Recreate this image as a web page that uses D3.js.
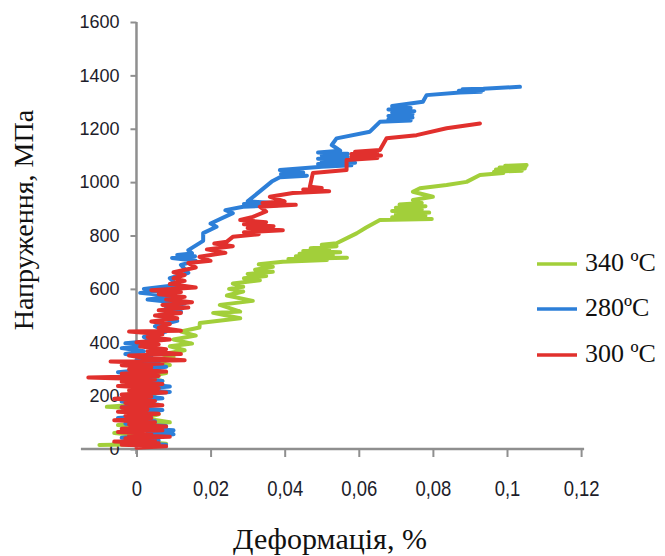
<!DOCTYPE html>
<html>
<head>
<meta charset="utf-8">
<script src="https://cdn.jsdelivr.net/npm/d3@7/dist/d3.min.js"></script>
<style>
  html, body { margin: 0; padding: 0; background: #fff; }
  svg { display: block; }
</style>
</head>
<body>
<svg id="chart" width="665" height="556"></svg>
<script>
// Stress–strain curves (strain, stress in MPa) at three test temperatures.
const seriesNames = ["340 ºC", "280ºC", "300 ºC"];
const seriesColors = ["#a2cf3a", "#2d7fd8", "#e1302d"];

const curve340 = [
  [-0.010, 15], [0.008, 20], [0.000, 30], [0.006, 45], [-0.006, 60], [0.004, 75],
  [-0.005, 90], [0.009, 100], [0.002, 115], [0.006, 130], [-0.004, 140], [0.003, 150],
  [-0.008, 158], [0.002, 168], [-0.003, 180], [0.005, 195], [-0.002, 210], [0.006, 225],
  [0.000, 240], [0.007, 255], [0.002, 270], [0.008, 285], [0.003, 300], [0.009, 315],
  [0.004, 330], [0.010, 345], [0.007, 355], [0.013, 370], [0.009, 385], [0.015, 395],
  [0.010, 410], [0.016, 425], [0.012, 440], [0.017, 455], [0.0171, 472], [0.028, 490],
  [0.0207, 510], [0.028, 515], [0.0225, 540], [0.0314, 555], [0.0244, 575], [0.0288, 590],
  [0.025, 600], [0.0288, 608], [0.026, 620], [0.0333, 632], [0.029, 640], [0.035, 648],
  [0.030, 656], [0.0368, 664], [0.032, 672], [0.0368, 683], [0.033, 692], [0.0395, 702],
  [0.0514, 708], [0.041, 712], [0.0568, 717], [0.043, 722], [0.053, 727], [0.044, 732],
  [0.055, 737], [0.045, 742], [0.052, 747], [0.047, 752], [0.054, 760], [0.050, 765],
  [0.054, 771], [0.0594, 808], [0.062, 830], [0.0657, 858], [0.0797, 862], [0.069, 868],
  [0.078, 874], [0.070, 880], [0.079, 886], [0.069, 892], [0.077, 898], [0.070, 904],
  [0.078, 910], [0.071, 916], [0.077, 922], [0.0746, 933], [0.080, 945], [0.0746, 964],
  [0.0765, 977], [0.0837, 989], [0.0891, 1001], [0.0927, 1027], [0.0990, 1034],
  [0.0965, 1039], [0.1040, 1043], [0.0970, 1047], [0.1048, 1051], [0.0980, 1055],
  [0.1050, 1058], [0.0995, 1061], [0.1053, 1064]
];

const curve280 = [
  [0.002, 10], [0.008, 16], [-0.002, 24], [0.006, 32], [-0.004, 42], [0.010, 55],
  [0.003, 63], [0.010, 70], [0.001, 78], [0.008, 86], [-0.003, 95], [0.005, 104],
  [-0.005, 116], [0.004, 126], [-0.002, 136], [0.007, 146], [-0.004, 156], [0.006, 166],
  [-0.004, 178], [0.007, 190], [-0.001, 202], [0.009, 214], [0.000, 224], [0.009, 234],
  [0.001, 244], [0.007, 255], [-0.002, 266], [0.005, 276], [-0.005, 288], [0.003, 298],
  [0.008, 308], [-0.001, 318], [0.006, 326], [0.000, 334], [0.004, 345], [-0.003, 356],
  [0.002, 366], [-0.004, 378], [0.003, 388], [-0.003, 396], [0.004, 405], [0.002, 420],
  [0.008, 440], [0.005, 460], [0.011, 480], [0.006, 500], [0.012, 515], [0.008, 530],
  [0.013, 545], [0.003, 560], [0.010, 572], [0.001, 585], [0.009, 594], [0.002, 600],
  [0.011, 615], [0.009, 640], [0.014, 660], [0.012, 690], [0.016, 705], [0.0096, 716],
  [0.0158, 722], [0.011, 727], [0.015, 733], [0.014, 745], [0.018, 780], [0.018, 809],
  [0.0216, 833], [0.020, 845], [0.026, 884], [0.024, 895], [0.0288, 908], [0.038, 913],
  [0.029, 918], [0.036, 923], [0.030, 928], [0.0365, 1002], [0.0387, 1018], [0.046, 1024],
  [0.039, 1030], [0.045, 1036], [0.0387, 1045], [0.050, 1058], [0.058, 1063],
  [0.049, 1068], [0.059, 1073], [0.050, 1078], [0.058, 1083], [0.049, 1088],
  [0.057, 1094], [0.050, 1100], [0.057, 1106], [0.049, 1111], [0.055, 1118],
  [0.0527, 1139], [0.054, 1164], [0.063, 1189], [0.0657, 1226], [0.074, 1231],
  [0.068, 1236], [0.0745, 1242], [0.068, 1248], [0.0745, 1254], [0.069, 1260],
  [0.075, 1266], [0.068, 1272], [0.074, 1278], [0.069, 1285], [0.0773, 1301],
  [0.0783, 1326], [0.0873, 1336], [0.093, 1339], [0.087, 1342], [0.0936, 1345],
  [0.088, 1348], [0.0936, 1350], [0.1035, 1357]
];

const curve300 = [
  [0.000, 5], [0.008, 10], [-0.004, 16], [0.006, 22], [-0.006, 28], [0.005, 34],
  [-0.003, 40], [0.009, 46], [-0.002, 52], [0.004, 58], [-0.005, 64], [0.007, 70],
  [-0.004, 76], [0.008, 84], [-0.002, 92], [0.005, 100], [-0.006, 108], [0.004, 116],
  [-0.003, 124], [0.006, 132], [-0.005, 140], [0.003, 148], [-0.004, 156], [0.007, 164],
  [-0.003, 172], [0.005, 180], [-0.006, 188], [0.004, 196], [-0.004, 204], [0.008, 212],
  [-0.002, 220], [0.006, 228], [-0.005, 236], [0.007, 244], [-0.004, 252], [0.005, 260],
  [-0.013, 268], [0.006, 274], [-0.004, 282], [0.008, 290], [-0.002, 298], [0.004, 306],
  [-0.004, 314], [0.007, 320], [-0.007, 328], [0.013, 333], [0.002, 342], [-0.002, 350],
  [0.012, 356], [0.003, 366], [0.008, 374], [0.001, 384], [0.006, 392], [0.000, 400],
  [0.009, 410], [0.003, 420], [0.007, 430], [-0.002, 440], [0.012, 443], [0.006, 455],
  [0.009, 468], [0.004, 478], [0.011, 490], [0.005, 500], [0.012, 510], [0.006, 520],
  [0.014, 530], [0.007, 540], [0.015, 550], [0.008, 560], [0.013, 570], [0.006, 580],
  [0.012, 588], [0.004, 595], [0.016, 605], [0.009, 618], [0.013, 630], [0.010, 640],
  [0.013, 652], [0.010, 662], [0.016, 680], [0.014, 697], [0.020, 705], [0.017, 720],
  [0.024, 735], [0.019, 748], [0.026, 760], [0.021, 770], [0.0244, 777], [0.026, 795],
  [0.033, 805], [0.029, 812], [0.0395, 820], [0.030, 828], [0.037, 835], [0.029, 842],
  [0.035, 850], [0.028, 858], [0.0314, 870], [0.035, 890], [0.0333, 908], [0.043, 915],
  [0.034, 922], [0.040, 928], [0.036, 945], [0.0422, 959], [0.052, 966], [0.045, 972],
  [0.050, 978], [0.0468, 983], [0.0476, 1034], [0.0567, 1045], [0.0567, 1083],
  [0.065, 1090], [0.058, 1095], [0.066, 1100], [0.058, 1105], [0.065, 1110],
  [0.059, 1114], [0.0657, 1120], [0.0675, 1164], [0.0756, 1176], [0.0837, 1202],
  [0.0927, 1220]
];

const seriesData = [curve340, curve280, curve300];

const xTicks = [0, 0.02, 0.04, 0.06, 0.08, 0.1, 0.12];
const xTickLabels = ["0", "0,02", "0,04", "0,06", "0,08", "0,1", "0,12"];
const yTicks = [0, 200, 400, 600, 800, 1000, 1200, 1400, 1600];
const yTickLabels = ["0", "200", "400", "600", "800", "1000", "1200", "1400", "1600"];

const xTitle = "Деформація, %";
const yTitle = "Напруження, МПа";

const svg = d3.select("#chart");

const x = d3.scaleLinear().domain([-0.015, 0.12]).range([80.9, 581.1]);
const y = d3.scaleLinear().domain([0, 1600]).range([449, 22]);

const axisColor = "#8f8f8f";

// X axis along zero stress
const gx = svg.append("g").attr("transform", `translate(0,${y(0)})`)
  .call(d3.axisBottom(x)
    .tickValues(xTicks)
    .tickFormat((d, i) => xTickLabels[i])
    .tickSize(8).tickSizeOuter(0).tickPadding(23));
gx.select(".domain").attr("stroke", axisColor).attr("stroke-width", 2.5)
  .attr("d", `M${x(-0.015)},0H${x(0.12) + 3}`);
gx.selectAll(".tick line").attr("stroke", axisColor).attr("stroke-width", 2);
gx.selectAll(".tick text")
  .attr("fill", "#1d1d2a")
  .attr("transform", "scale(0.84,1)")
  .style("font-family", "'Liberation Sans', Arial, sans-serif")
  .style("font-size", "22px");

// Y axis along zero strain
const gy = svg.append("g").attr("transform", `translate(${x(0)},0)`)
  .call(d3.axisLeft(y)
    .tickValues(yTicks)
    .tickFormat((d, i) => yTickLabels[i])
    .tickSize(6).tickSizeOuter(0).tickPadding(11));
gy.select(".domain").attr("stroke", axisColor).attr("stroke-width", 2.5)
  .attr("d", `M0,${y(1600)}V${y(0) + 5}`);
gy.selectAll(".tick line").attr("stroke", axisColor).attr("stroke-width", 2);
gy.selectAll(".tick text")
  .attr("fill", "#1d1d2a")
  .style("font-family", "'Liberation Sans', Arial, sans-serif")
  .style("font-size", "18px");

// Curves
const line = d3.line().x(d => x(d[0])).y(d => y(d[1]));
svg.append("g").selectAll("path")
  .data(seriesData)
  .join("path")
  .attr("d", line)
  .attr("fill", "none")
  .attr("stroke", (d, i) => seriesColors[i])
  .attr("stroke-width", 4)
  .attr("stroke-linejoin", "round")
  .attr("stroke-linecap", "round");

// Axis titles
svg.append("text")
  .attr("x", 330).attr("y", 549)
  .attr("text-anchor", "middle")
  .style("font-family", "'Liberation Serif', 'Times New Roman', serif")
  .style("font-size", "30px")
  .attr("fill", "#111")
  .text(xTitle);

svg.append("text")
  .attr("transform", "translate(33,220) rotate(-90)")
  .attr("text-anchor", "middle")
  .style("font-family", "'Liberation Serif', 'Times New Roman', serif")
  .style("font-size", "28px")
  .attr("fill", "#111")
  .text(yTitle);

// Legend
const legendY = [264, 309, 355];
const legend = svg.append("g").selectAll("g")
  .data(seriesNames)
  .join("g")
  .attr("transform", (d, i) => `translate(0,${legendY[i]})`);
legend.append("line")
  .attr("x1", 537).attr("x2", 577)
  .attr("stroke", (d, i) => seriesColors[i])
  .attr("stroke-width", 3.6);
legend.append("text")
  .attr("x", 585).attr("y", 7)
  .style("font-family", "'Liberation Serif', 'Times New Roman', serif")
  .style("font-size", "26px")
  .attr("fill", "#111")
  .text(d => d);
</script>
</body>
</html>
